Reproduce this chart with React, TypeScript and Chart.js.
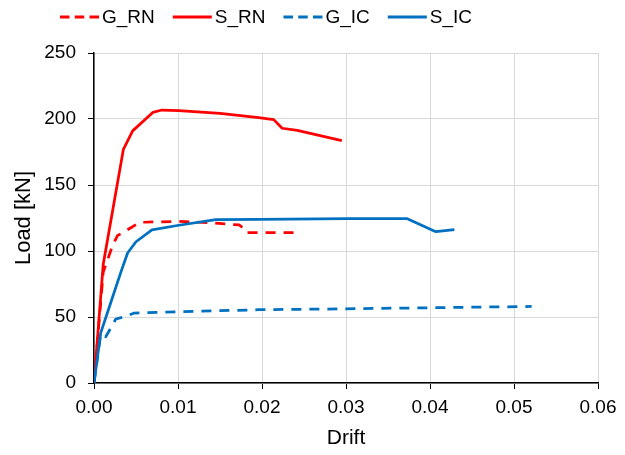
import React, { useEffect, useRef } from "react";
import { Chart, registerables } from "chart.js";

Chart.register(...registerables);

const seriesNames = ["G_RN", "S_RN", "G_IC", "S_IC"];
const seriesColors = ["#FF0000", "#FF0000", "#0070C0", "#0070C0"];
const seriesDashed = [true, false, true, false];

const gRnDrift = [0, 0.0011, 0.0022, 0.0028, 0.0046, 0.0054, 0.0101, 0.0141, 0.0173, 0.0179, 0.0181, 0.0244];
const gRnLoad = [0, 84, 104, 111.6, 118.4, 121.7, 122.5, 121.2, 119.7, 116.7, 114, 114];

const sRnDrift = [0, 0.0011, 0.0035, 0.0046, 0.007, 0.0081, 0.0101, 0.015, 0.0196, 0.0214, 0.0224, 0.0242, 0.0295];
const sRnLoad = [0, 90, 177, 191, 205, 206.8, 206.3, 204.3, 201, 199.5, 193, 191.4, 183.6];

const gIcDrift = [0, 0.0008, 0.0014, 0.0026, 0.0038, 0.0048, 0.0101, 0.0196, 0.0313, 0.0521];
const gIcLoad = [0, 37, 35, 48.5, 50.5, 53, 54, 55.5, 56.3, 58];

const sIcDrift = [0, 0.0008, 0.002, 0.0032, 0.004, 0.005, 0.0069, 0.0101, 0.0145, 0.0196, 0.0304, 0.0373, 0.0407, 0.0429];
const sIcLoad = [0, 38, 61, 84, 98.5, 107, 116, 119.5, 123.7, 124, 124.5, 124.5, 114.6, 116.2];

const xTicks = [0, 0.01, 0.02, 0.03, 0.04, 0.05, 0.06];
const yTicks = [0, 50, 100, 150, 200, 250];

const FONT = '"Liberation Sans", Arial, sans-serif';
const DASH = [10, 8];
const LEGEND_DASH = [9.5, 5.25];

const toPoints = (xs: number[], ys: number[]) => xs.map((x, i) => ({ x, y: ys[i] }));

const customLegend = {
  id: "customLegend",
  afterDraw(chart: any) {
    const ctx = chart.ctx as CanvasRenderingContext2D;
    ctx.save();
    ctx.font = `19px ${FONT}`;
    ctx.textBaseline = "middle";
    ctx.textAlign = "left";
    let x = 60;
    const y = 17;
    chart.data.datasets.forEach((ds: any) => {
      ctx.strokeStyle = ds.borderColor;
      ctx.lineWidth = 3;
      ctx.lineCap = "butt";
      ctx.setLineDash(ds.borderDash && ds.borderDash.length ? LEGEND_DASH : []);
      ctx.beginPath();
      ctx.moveTo(x, y);
      ctx.lineTo(x + 39, y);
      ctx.stroke();
      ctx.setLineDash([]);
      x += 42;
      ctx.fillStyle = "#000";
      ctx.fillText(ds.label, x, y + 1);
      x += ctx.measureText(ds.label).width + 18;
    });
    ctx.restore();
  },
};

export default function App() {
  const ref = useRef<HTMLCanvasElement>(null);
  useEffect(() => {
    document.body.style.margin = "0";
    const seriesData = [
      toPoints(gRnDrift, gRnLoad),
      toPoints(sRnDrift, sRnLoad),
      toPoints(gIcDrift, gIcLoad),
      toPoints(sIcDrift, sIcLoad),
    ];
    const chart = new Chart(ref.current!, {
      type: "line",
      data: {
        datasets: seriesNames.map((name, i) => ({
          label: name,
          data: seriesData[i],
          borderColor: seriesColors[i],
          backgroundColor: seriesColors[i],
          borderWidth: 2.75,
          borderDash: seriesDashed[i] ? DASH : [],
          pointRadius: 0,
          tension: 0,
          fill: false,
          borderJoinStyle: "round" as const,
          order: 4 - i,
        })),
      },
      options: {
        responsive: false,
        animation: false,
        layout: { padding: { left: 0, right: 27, top: 53, bottom: 0 } },
        plugins: {
          legend: { display: false },
          tooltip: { enabled: false },
        },
        scales: {
          x: {
            type: "linear",
            min: 0,
            max: 0.06,
            afterBuildTicks: (s: any) => {
              s.ticks = xTicks.map((v) => ({ value: v }));
            },
            afterFit: (s: any) => {
              s.height = 72;
            },
            ticks: {
              callback: (v: any) => Number(v).toFixed(2),
              font: { family: FONT, size: 19 },
              color: "#000",
              padding: 7,
              maxRotation: 0,
            },
            grid: { color: "#d9d9d9", lineWidth: 1, tickColor: "#000", tickLength: 6 },
            border: { color: "#000", width: 1.5 },
            title: {
              display: true,
              text: "Drift",
              font: { family: FONT, size: 21 },
              color: "#000",
              padding: { top: 0, bottom: 4 },
            },
          },
          y: {
            type: "linear",
            min: 0,
            max: 250,
            afterBuildTicks: (s: any) => {
              s.ticks = yTicks.map((v) => ({ value: v }));
            },
            afterFit: (s: any) => {
              s.width = 94;
            },
            ticks: {
              font: { family: FONT, size: 19 },
              color: "#000",
              padding: 12,
            },
            grid: { color: "#d9d9d9", lineWidth: 1, tickColor: "#000", tickLength: 6 },
            border: { color: "#000", width: 1.5 },
            title: {
              display: true,
              text: "Load [kN]",
              font: { family: FONT, size: 22 },
              color: "#000",
              padding: { top: 11, bottom: 0 },
            },
          },
        },
      },
      plugins: [customLegend],
    });
    return () => chart.destroy();
  }, []);
  return <canvas ref={ref} width={625} height={455} style={{ display: "block" }} />;
}
